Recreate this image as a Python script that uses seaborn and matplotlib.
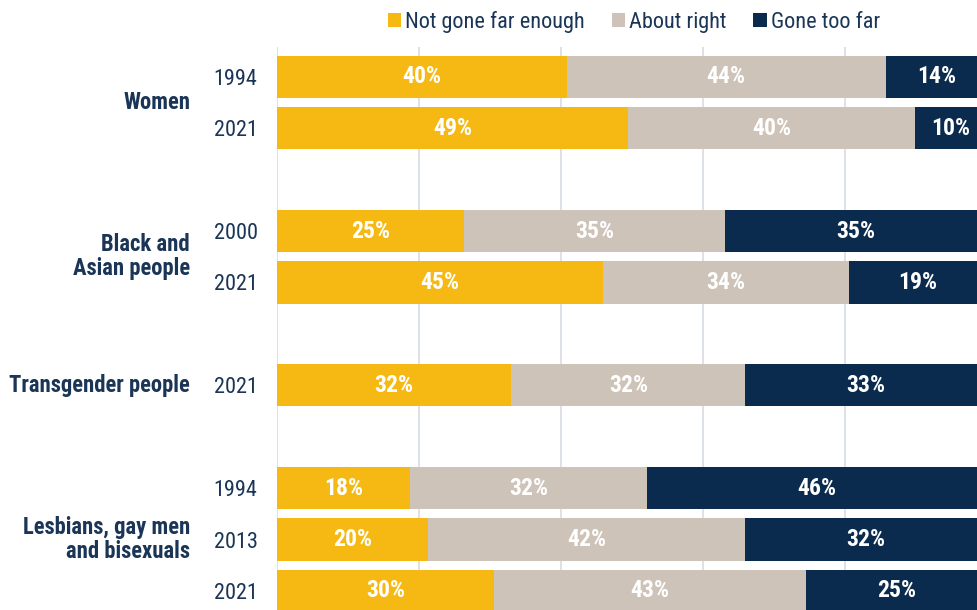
import numpy as np
import pandas as pd
import matplotlib
matplotlib.use("Agg")
import matplotlib.pyplot as plt
import matplotlib.transforms as mtransforms
from matplotlib.patches import Patch
import seaborn as sns

# Data
groups = ["Women", "Black and\nAsian people", "Transgender people", "Lesbians, gay men\nand bisexuals"]
group_years = [["1994", "2021"], ["2000", "2021"], ["2021"], ["1994", "2013", "2021"]]
not_far_enough = [40, 49, 25, 45, 32, 18, 20, 30]
about_right = [44, 40, 35, 34, 32, 32, 42, 43]
gone_too_far = [14, 10, 35, 19, 33, 46, 32, 25]
series_names = ["Not gone far enough", "About right", "Gone too far"]

colors = ["#F6B913", "#CEC3B8", "#0B2B4E"]
navy = "#1A3556"

# row positions: one blank row between groups
pos, years, group_pos = [], [], []
y = 0
for yrs in group_years:
    rows = list(range(y, y + len(yrs)))
    pos += rows
    years += yrs
    group_pos.append(np.mean(rows))
    y += len(yrs) + 1

df = pd.DataFrame({
    "pos": pos,
    "year": years,
    "a": not_far_enough,
    "b": about_right,
    "c": gone_too_far,
})
# bars are drawn as shares of the answers shown (each bar fills 100%)
total = df["a"] + df["b"] + df["c"]
df["sa"] = df["a"] / total * 100
df["sab"] = (df["a"] + df["b"]) / total * 100
df["sabc"] = 100.0

sns.set_theme(style="white")
plt.rcParams["font.family"] = ["Roboto Condensed", "DejaVu Sans"]

fig = plt.figure(figsize=(9.77, 6.10), dpi=100)
ax = fig.add_axes([277 / 977, 0, 1 - 277 / 977, 1 - 47 / 610])

# stacked bars drawn as overlaid cumulative layers
for col, c in zip(["sabc", "sab", "sa"], colors[::-1]):
    sns.barplot(data=df, x=col, y="pos", orient="y", native_scale=True,
                color=c, width=0.82, saturation=1, linewidth=0, ax=ax, zorder=3)

# segment labels
for _, r in df.iterrows():
    edges = [0, r["sa"], r["sab"], 100]
    for i, v in enumerate([r["a"], r["b"], r["c"]]):
        ax.text((edges[i] + edges[i + 1]) / 2, r["pos"], f"{v}%", ha="center", va="center",
                color="white", fontsize=17, fontweight="bold", zorder=4)

ax.set_xlim(0, 98.6)
ax.set_ylim(10.37, -0.58)
ax.set_xticks([0, 20, 40, 60, 80])
ax.set_xticklabels([])
ax.xaxis.grid(True, color="#D5DDE3", linewidth=1.2, zorder=0)
ax.yaxis.grid(False)
ax.set_axisbelow(True)
for sp in ax.spines.values():
    sp.set_visible(False)
ax.tick_params(axis="both", length=0)
ax.set_yticks(df["pos"])
ax.set_yticklabels(df["year"], fontsize=16, color=navy)
ax.tick_params(axis="y", pad=14)
ax.set_xlabel("")
ax.set_ylabel("")

trans = mtransforms.blended_transform_factory(fig.transFigure, ax.transData)
for g, gp in zip(groups, group_pos):
    ax.text(190 / 977, gp, g, transform=trans, ha="right", va="center",
            fontsize=16.3, fontweight="bold", color=navy, linespacing=1.05)

handles = [Patch(facecolor=c, edgecolor="none") for c in colors]
fig.legend(handles, series_names, loc="center", bbox_to_anchor=(634 / 977, 1 - 22 / 610),
           ncol=3, frameon=False, fontsize=16, labelcolor=navy,
           handlelength=0.6, handleheight=0.6, handletextpad=0.2, columnspacing=1.2)

fig.savefig("out.png", dpi=100)
